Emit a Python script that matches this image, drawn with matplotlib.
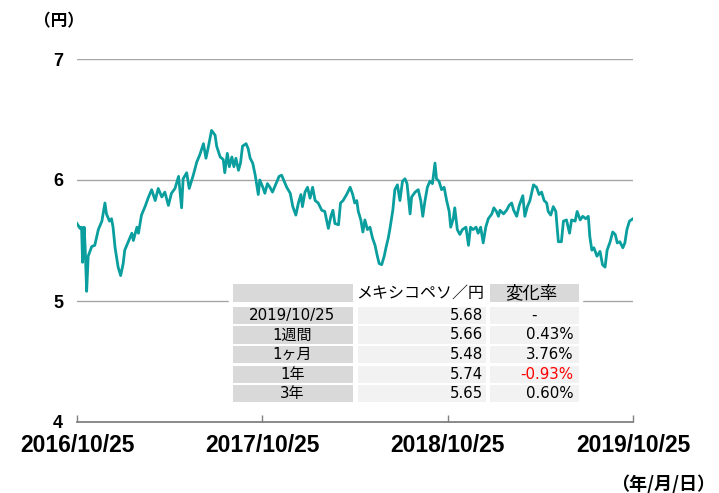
import numpy as np
import pandas as pd
import matplotlib
matplotlib.use('Agg')
import matplotlib.pyplot as plt
import matplotlib.dates as mdates
from matplotlib.patches import Rectangle

# days since 2016/10/25 and MXN/JPY rate
days = [0, 6, 9, 11, 14, 16, 19, 22, 29, 35,
        42, 49, 55, 58, 64, 68, 71, 75, 81, 86,
        91, 94, 101, 108, 111, 118, 121, 127, 134, 140,
        147, 154, 160, 167, 173, 180, 186, 193, 200, 206,
        209, 216, 221, 229, 236, 242, 249, 254, 259, 265,
        272, 275, 282, 288, 291, 296, 300, 305, 309, 313,
        318, 322, 326, 333, 337, 341, 346, 351, 357, 360,
        366, 370, 375, 380, 385, 392, 398, 403, 408, 413,
        420, 425, 431, 436, 441, 444, 449, 454, 459, 464,
        469, 475, 482, 488, 495, 500, 504, 508, 515, 519,
        524, 531, 538, 543, 547, 551, 554, 559, 563, 567,
        572, 577, 582, 587, 591, 595, 600, 605, 609, 613,
        616, 622, 626, 631, 636, 641, 646, 650, 656, 659,
        666, 672, 677, 681, 685, 690, 695, 700, 705, 708,
        713, 718, 723, 728, 733, 736, 741, 744, 749, 754,
        759, 766, 771, 775, 780, 786, 790, 795, 800, 805,
        810, 817, 821, 826, 830, 833, 840, 846, 851, 856,
        860, 866, 871, 878, 882, 887, 892, 899, 905, 910,
        915, 920, 925, 928, 933, 938, 943, 948, 954, 958,
        964, 970, 974, 981, 985, 991, 996, 1002, 1007, 1010,
        1014, 1018, 1024, 1030, 1035, 1040, 1044, 1050, 1055, 1060,
        1064, 1069, 1075, 1079, 1083, 1088, 1095]
rate = [5.64, 5.60, 5.61, 5.32, 5.61, 5.45, 5.08, 5.37, 5.45, 5.46,
        5.59, 5.66, 5.81, 5.72, 5.66, 5.68, 5.61, 5.44, 5.28, 5.21,
        5.31, 5.42, 5.49, 5.56, 5.50, 5.61, 5.56, 5.71, 5.78, 5.85,
        5.92, 5.83, 5.93, 5.86, 5.90, 5.79, 5.89, 5.93, 6.03, 5.77,
        6.01, 6.06, 5.93, 6.04, 6.15, 6.21, 6.30, 6.18, 6.28, 6.41,
        6.37, 6.28, 6.19, 6.17, 6.06, 6.22, 6.11, 6.19, 6.11, 6.18,
        6.08, 6.14, 6.28, 6.30, 6.26, 6.18, 6.14, 6.04, 5.88, 6.00,
        5.94, 5.89, 5.97, 5.94, 5.90, 5.97, 6.03, 6.04, 5.99, 5.94,
        5.89, 5.78, 5.71, 5.81, 5.88, 5.78, 5.90, 5.94, 5.85, 5.94,
        5.83, 5.81, 5.75, 5.74, 5.60, 5.70, 5.75, 5.64, 5.63, 5.81,
        5.83, 5.88, 5.94, 5.88, 5.81, 5.83, 5.74, 5.67, 5.57, 5.67,
        5.59, 5.61, 5.52, 5.46, 5.38, 5.31, 5.30, 5.37, 5.45, 5.52,
        5.59, 5.75, 5.92, 5.96, 5.83, 5.99, 6.01, 5.97, 5.72, 5.86,
        5.90, 5.92, 5.83, 5.70, 5.82, 5.94, 5.99, 5.97, 6.14, 6.01,
        5.99, 5.92, 5.94, 5.83, 5.74, 5.61, 5.68, 5.77, 5.59, 5.55,
        5.59, 5.61, 5.46, 5.61, 5.59, 5.61, 5.56, 5.61, 5.48, 5.61,
        5.68, 5.72, 5.77, 5.74, 5.70, 5.75, 5.72, 5.75, 5.79, 5.81,
        5.75, 5.70, 5.79, 5.87, 5.70, 5.78, 5.83, 5.96, 5.94, 5.88,
        5.90, 5.83, 5.81, 5.74, 5.71, 5.78, 5.74, 5.49, 5.49, 5.66,
        5.67, 5.56, 5.67, 5.66, 5.74, 5.67, 5.70, 5.68, 5.70, 5.53,
        5.42, 5.44, 5.37, 5.41, 5.30, 5.28, 5.42, 5.49, 5.57, 5.55,
        5.48, 5.49, 5.44, 5.48, 5.59, 5.66, 5.68]

start = pd.Timestamp('2016-10-25')
dates = start + pd.to_timedelta(days, unit='D')
tick_dates = pd.to_datetime(['2016-10-25', '2017-10-25', '2018-10-25', '2019-10-25'])

# summary table
row_labels = ['2019/10/25', '1週間', '1ヶ月', '1年', '3年']
row_rates = [5.68, 5.66, 5.48, 5.74, 5.65]
row_changes = ['-', '0.43%', '3.76%', '-0.93%', '0.60%']

W, H = 719, 493
fig = plt.figure(figsize=(W / 100, H / 100), dpi=100)
ax = fig.add_axes([77 / W, 1 - 422 / H, 556 / W, 363 / H])

ax.plot(dates, rate, color='#0a9e9e', lw=2.0, solid_joinstyle='round', zorder=3)

ax.set_xlim(tick_dates[0], tick_dates[-1])
ax.set_ylim(4, 7)
ax.set_yticks([4, 5, 6, 7])
for y in [5, 6, 7]:
    ax.axhline(y, color='#a6a6a6', lw=1.0, zorder=1)

for s in ['left', 'right', 'top']:
    ax.spines[s].set_visible(False)
ax.spines['bottom'].set_color('#808080')
ax.spines['bottom'].set_linewidth(1.3)

ax.set_xticks(tick_dates)
ax.xaxis.set_major_formatter(mdates.DateFormatter('%Y/%m/%d'))
ax.tick_params(axis='x', direction='in', length=5, width=1, color='#808080', pad=9)
ax.tick_params(axis='y', length=0, pad=10)
for lab in ax.get_xticklabels():
    lab.set_fontfamily(['Liberation Sans', 'DejaVu Sans'])
    lab.set_fontweight('bold')
    lab.set_fontsize(16.5)
for lab in ax.get_yticklabels():
    lab.set_fontfamily(['Liberation Sans', 'DejaVu Sans'])
    lab.set_fontweight('bold')
    lab.set_fontsize(13)

jp = ['Noto Sans CJK JP', 'DejaVu Sans']
fig.text(59 / W, 1 - 21 / H, '（円）', ha='center', va='center',
         fontsize=12, fontweight='bold', family=jp)
fig.text(663 / W, 1 - 484 / H, '（年/月/日）', ha='center', va='center',
         fontsize=13, fontweight='bold', family=jp)

# table drawn in pixel coordinates on an overlay axes
tb = fig.add_axes([0, 0, 1, 1])
tb.set_xlim(0, W)
tb.set_ylim(H, 0)
tb.axis('off')

cols = [(232.5, 352.5), (357.5, 485.5), (489.5, 579)]
tb.add_patch(Rectangle((229, 281), 353, 124, color='white', zorder=1))
head_top, head_bot = 284, 301.7
tb.add_patch(Rectangle((cols[0][0], head_top), cols[0][1] - cols[0][0], head_bot - head_top,
                       color='#d9d9d9', lw=0, zorder=2))
tb.add_patch(Rectangle((cols[2][0], head_top), cols[2][1] - cols[2][0], head_bot - head_top,
                       color='#d9d9d9', lw=0, zorder=2))
hy = (head_top + head_bot) / 2
tf = ['DejaVu Sans', 'Noto Sans CJK JP']
tb.text(cols[1][1] - 1, hy, 'メキシコペソ／円', ha='right', va='center',
        fontsize=11.5, family=['Noto Sans CJK JP'], zorder=3)
tb.text(sum(cols[2]) / 2 - 3, hy, '変化率', ha='center', va='center',
        fontsize=12.5, family=['Noto Sans CJK JP'], zorder=3)

row_tops = [306.7, 326.3, 345.9, 365.5, 385.1]
row_h = 17.2
for i, top in enumerate(row_tops):
    tb.add_patch(Rectangle((cols[0][0], top), cols[0][1] - cols[0][0], row_h,
                           color='#d9d9d9', lw=0, zorder=2))
    tb.add_patch(Rectangle((cols[1][0], top), cols[1][1] - cols[1][0], row_h,
                           color='#f2f2f2', lw=0, zorder=2))
    tb.add_patch(Rectangle((cols[2][0], top), cols[2][1] - cols[2][0], row_h,
                           color='#f2f2f2', lw=0, zorder=2))
    cy = top + row_h / 2
    tb.text(sum(cols[0]) / 2, cy, row_labels[i], ha='center', va='center',
            fontsize=10.8, family=tf, zorder=3)
    tb.text(cols[1][1] - 2.5, cy, f'{row_rates[i]:.2f}', ha='right', va='center',
            fontsize=10.8, family=tf, zorder=3)
    ch = row_changes[i]
    color = 'red' if ch.startswith('-') and len(ch) > 1 else 'black'
    if ch == '-':
        tb.text(sum(cols[2]) / 2, cy, ch, ha='center', va='center',
                fontsize=10.8, family=tf, zorder=3)
    else:
        tb.text(cols[2][1] - 5.5, cy, ch, ha='right', va='center',
                fontsize=10.8, family=tf, color=color, zorder=3)

fig.savefig('out.png', dpi=100)
